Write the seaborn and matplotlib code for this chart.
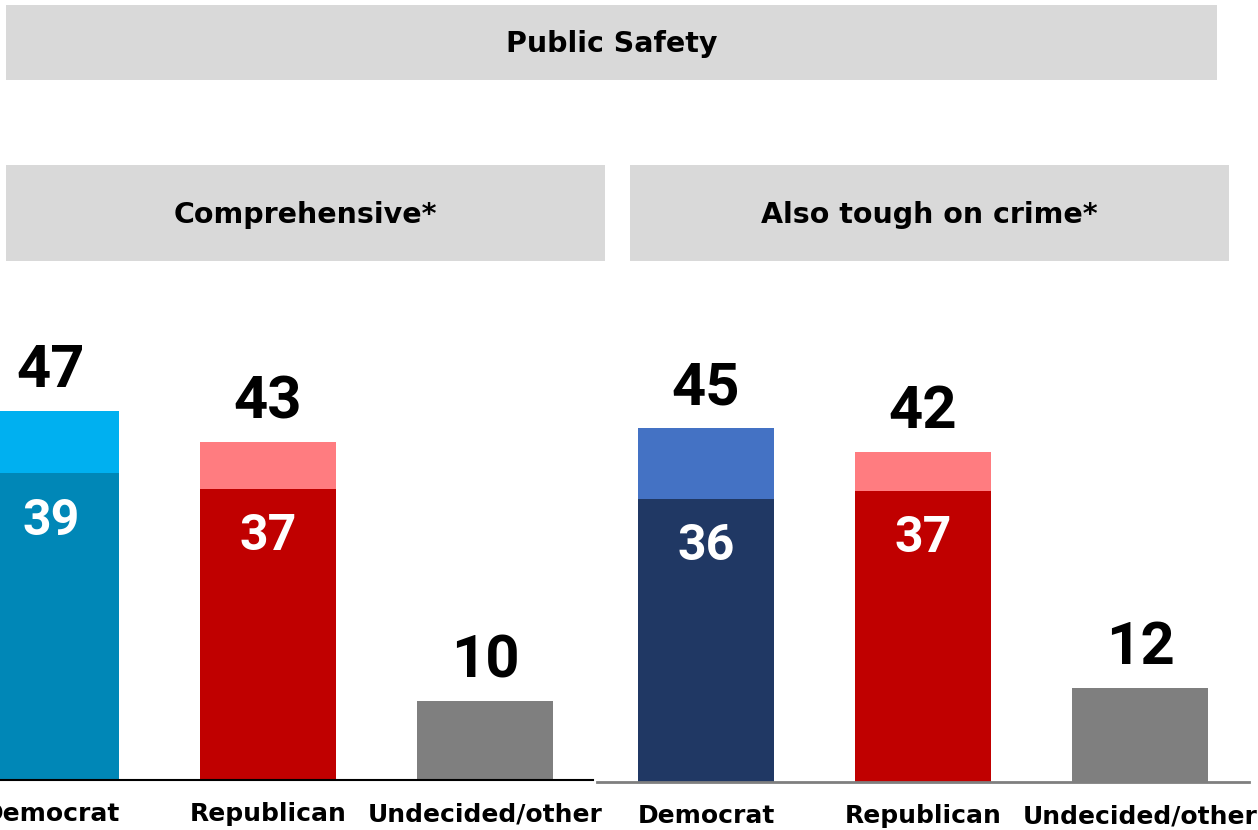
import matplotlib
matplotlib.use("Agg")
import matplotlib.pyplot as plt
from matplotlib.patches import Rectangle
import seaborn as sns
import pandas as pd

sns.set_theme(style="white")
plt.rcParams["font.family"] = ["DejaVu Sans"]

# ---- data -------------------------------------------------------------
parties = ["Democrat", "Republican", "Undecided/other"]

comprehensive_total = [47, 43, 10]
comprehensive_firm = [39, 37, 10]

tough_total = [45, 42, 12]
tough_firm = [36, 37, 12]

main_title = "Public Safety"
panel_titles = ["Comprehensive*", "Also tough on crime*"]

# ---- colours ----------------------------------------------------------
light_left = {"Democrat": "#00B0F0", "Republican": "#FF7C80", "Undecided/other": "#7F7F7F"}
dark_left = {"Democrat": "#0087B7", "Republican": "#C00000", "Undecided/other": "#7F7F7F"}
light_right = {"Democrat": "#4472C4", "Republican": "#FF7C80", "Undecided/other": "#7F7F7F"}
dark_right = {"Democrat": "#203864", "Republican": "#C00000", "Undecided/other": "#7F7F7F"}
header_grey = "#D9D9D9"

W, H = 1258, 830
fig = plt.figure(figsize=(W / 100, H / 100), dpi=100)
fig.patch.set_facecolor("white")

NUM_FONT = ["Roboto", "DejaVu Sans"]
BAR_W = 0.627


def header(x0, y0, x1, y1, text, size):
    """Grey title strip given in pixel coordinates measured from the top."""
    fig.patches.append(Rectangle((x0 / W, 1 - y1 / H), (x1 - x0) / W, (y1 - y0) / H,
                                 transform=fig.transFigure, facecolor=header_grey,
                                 edgecolor="none", zorder=0))
    fig.text((x0 + x1) / 2 / W, 1 - (y0 + y1) / 2 / H - 1.5 / H, text, ha="center",
             va="center", fontsize=size, fontweight="bold", color="black")


header(6, 5, 1217, 80, main_title, 20.5)
header(6, 165, 605, 261, panel_titles[0], 20.5)
header(630, 165, 1229, 261, panel_titles[1], 20.5)


def panel(rect, xlim, totals, firm, light, dark, spine_color, spine_lw):
    ax = fig.add_axes(rect)
    df = pd.DataFrame({"party": parties, "total": totals, "firm": firm})
    sns.barplot(data=df, x="party", y="total", hue="party", order=parties,
                palette=light, width=BAR_W, saturation=1, legend=False,
                linewidth=0, edgecolor="none", ax=ax)
    sns.barplot(data=df, x="party", y="firm", hue="party", order=parties,
                palette=dark, width=BAR_W, saturation=1, legend=False,
                linewidth=0, edgecolor="none", ax=ax)
    ax.set_xlim(*xlim)
    ax.set_ylim(0, 50)
    ax.set_facecolor("none")
    for side in ("left", "right", "top"):
        ax.spines[side].set_visible(False)
    ax.spines["bottom"].set_color(spine_color)
    ax.spines["bottom"].set_linewidth(spine_lw)
    ax.set_xlabel("")
    ax.set_ylabel("")
    ax.set_yticks([])
    ax.tick_params(axis="x", length=0, pad=16)
    ax.set_xticks(range(len(parties)))
    ax.set_xticklabels(parties, fontsize=18, fontweight="bold", color="black")

    for i, (t, f) in enumerate(zip(totals, firm)):
        ax.text(i, t + 3.0, f"{t}", ha="center", va="baseline", fontsize=43,
                fontweight="bold", family=NUM_FONT, color="black", clip_on=False)
        if f < t:
            ax.text(i, f - 7.8, f"{f}", ha="center", va="baseline", fontsize=36,
                    fontweight="bold", family=NUM_FONT, color="white", clip_on=False)
    return ax


panel([0 / W, 50 / H, 593 / W, 393 / H], (-51 / 217, 542 / 217),
      comprehensive_total, comprehensive_firm, light_left, dark_left, "black", 1.5)
panel([597 / W, 48 / H, 652 / W, 393 / H], (-0.502, 2.502),
      tough_total, tough_firm, light_right, dark_right, "#7F7F7F", 2.0)

fig.savefig("out.png", dpi=100, facecolor="white")
